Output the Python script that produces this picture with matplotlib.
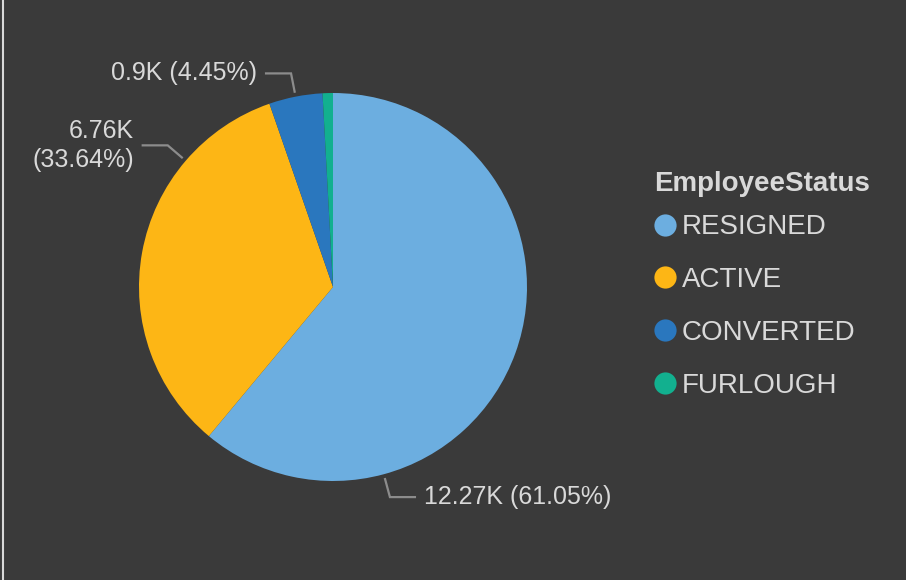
import matplotlib
matplotlib.use('Agg')
import matplotlib.pyplot as plt
from matplotlib.lines import Line2D
import numpy as np

# ---- data ----
categories = ['RESIGNED', 'ACTIVE', 'CONVERTED', 'FURLOUGH']
values = [12270, 6760, 895, 173]
show_label = [True, True, True, False]
legend_title = 'EmployeeStatus'

# ---- style ----
colors = ['#6caee0', '#fdb615', '#2a77be', '#12b08f']
bg = '#3a3a3a'
txt = '#d9d9d9'
leader_col = '#8c8c8c'
plt.rcParams['font.family'] = ['Liberation Sans', 'DejaVu Sans']

W, H = 906, 580
fig = plt.figure(figsize=(W / 100, H / 100), dpi=100, facecolor=bg)

# pie axes: centre (333,287), radius 194 px
cx, cy, R = 333, 287, 194
ax = fig.add_axes([(cx - R) / W, (H - cy - R) / H, 2 * R / W, 2 * R / H])
ax.set_facecolor(bg)
wedges, _ = ax.pie(values, colors=colors, startangle=90, counterclock=False,
                   radius=1, wedgeprops=dict(linewidth=0))
ax.set_xlim(-1, 1)
ax.set_ylim(-1, 1)
ax.axis('off')

total = sum(values)

def fmt_k(v):
    return '{:g}K'.format(round(v / 1000 + 1e-9, 2))

# layout for leader lines (position along wedge, clockwise)
leader_frac = [0.75, 0.75, 0.5, 0.5]
two_line = [False, True, False, False]
r0, r1 = 1.026, 1.122
hseg = 25 / R
gap = 9 / R

for w, v, show, frac, tl in zip(wedges, values, show_label, leader_frac, two_line):
    if not show:
        continue
    ang = np.deg2rad(w.theta2 - frac * (w.theta2 - w.theta1))
    x0, y0 = r0 * np.cos(ang), r0 * np.sin(ang)
    x1, y1 = r1 * np.cos(ang), r1 * np.sin(ang)
    side = 1 if np.cos(ang) >= 0 else -1
    x2 = x1 + side * hseg
    ax.plot([x0, x1, x2], [y0, y1, y1], color=leader_col, lw=1.6,
            clip_on=False, solid_joinstyle='miter')
    pct = '({:.2f}%)'.format(100 * v / total)
    label = fmt_k(v) + ('\n' if tl else ' ') + pct
    ax.text(x2 + side * gap, y1, label, ha='left' if side > 0 else 'right',
            va='center', fontsize=18, color=txt, multialignment='right',
            linespacing=1.3, clip_on=False)

# left border
fig.add_artist(Line2D([3 / W, 3 / W], [0, 1], transform=fig.transFigure,
                      color='#d9d9d9', lw=1.5))

# legend title
fig.text(654 / W, 1 - 184 / H, legend_title, ha='left', va='center',
         fontsize=20, fontweight='bold', color=txt)

# legend entries
handles = [Line2D([], [], marker='o', linestyle='none', markersize=16,
                  markerfacecolor=c, markeredgewidth=0) for c in colors]
leg = fig.legend(handles, categories, loc='center left',
                 bbox_to_anchor=(654 / W, 1 - 306.5 / H),
                 frameon=False, fontsize=20,
                 handlelength=0.8, handletextpad=0.2,
                 labelspacing=0.965, borderpad=0, borderaxespad=0,
                 labelcolor=txt)

fig.savefig('out.png', dpi=100, facecolor=bg)
